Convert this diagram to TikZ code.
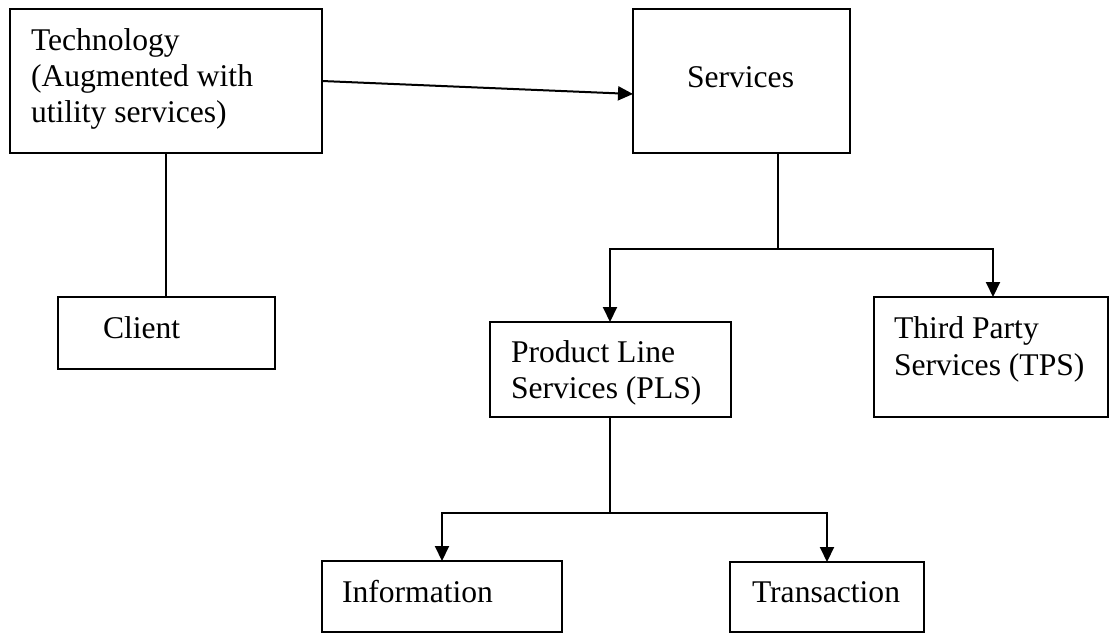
\documentclass[tikz,border=0pt]{standalone}
\usepackage{fontspec}
\setmainfont{Liberation Serif}
\usetikzlibrary{arrows.meta,calc}
\begin{document}
\begin{tikzpicture}[x=1pt,y=-1pt,
  box/.style={draw=black, line width=2pt, rectangle, inner sep=0pt, outer sep=0pt},
  lbl/.style={anchor=base west, inner sep=0pt, outer sep=0pt, font=\fontsize{31.6}{36.5}\selectfont},
  link/.style={draw=black, line width=2pt},
  arr/.style={link, -{Triangle[length=15pt,width=14pt]}}]
\useasboundingbox (0,0) rectangle (1109,633);

% boxes
\node[box, minimum width=312pt, minimum height=144pt] (tech)   at (166,81)    {};
\node[box, minimum width=217pt, minimum height=144pt] (serv)   at (741.5,81)  {};
\node[box, minimum width=217pt, minimum height=72pt]  (client) at (166,333)   {};
\node[box, minimum width=241pt, minimum height=95pt]  (pls)    at (610,369.5) {};
\node[box, minimum width=234pt, minimum height=120pt] (tps)    at (991,357)   {};
\node[box, minimum width=240pt, minimum height=71pt]  (info)   at (442,596.5) {};
\node[box, minimum width=194pt, minimum height=70pt]  (trans)  at (827,597)   {};

% labels
\node[lbl] (techA) at (31,50)  {Technology};
\node[lbl] (techB) at (31,86)  {(Augmented with};
\node[lbl] (techC) at (31,122) {utility services)};
\node[lbl] (servL) at (687,87) {Services};
\node[lbl] (clientL) at (103,338) {Client};
\node[lbl] (plsA) at (511,362) {Product Line};
\node[lbl] (plsB) at (511,398) {Services (PLS)};
\node[lbl] (tpsA) at (894,338) {Third Party};
\node[lbl] (tpsB) at (894,375) {Services (TPS)};
\node[lbl] (infoL) at (342,602) {Information};
\node[lbl] (transL) at (752,602) {Transaction};

% connectors
\draw[link] (tech.south) -- (client.north);
\draw[arr] (tech.east) -- ($(serv.west)+(0,13)$);

\coordinate (split1) at (778,249);
\draw[link] (serv.south -| split1) -- (split1);
\draw[arr] (split1) -| (pls.north);
\draw[arr] (split1) -| ($(tps.north)+(2,0)$);

\coordinate (split2) at ($(pls.south)+(0,96)$);
\draw[link] (pls.south) -- (split2);
\draw[arr] (split2) -| (info.north);
\draw[arr] (split2) -| (trans.north);
\end{tikzpicture}
\end{document}
